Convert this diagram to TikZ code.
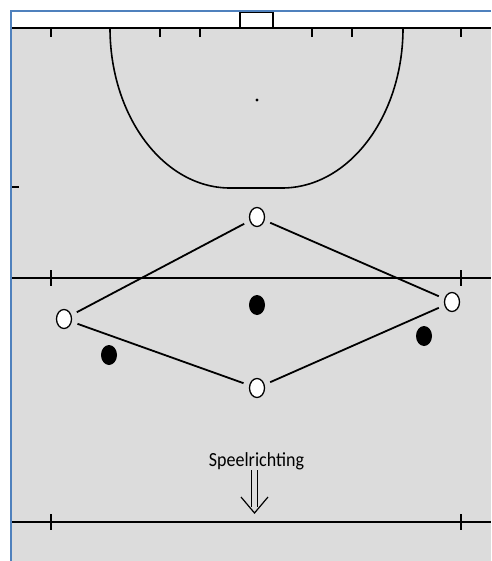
\documentclass[tikz,border=0pt]{standalone}
\usepackage{fontspec}
\setmainfont{Carlito}
\usetikzlibrary{shapes.geometric}
\definecolor{field}{RGB}{220,220,220}
\definecolor{frameblue}{RGB}{79,129,189}
\begin{document}
\begin{tikzpicture}[x=1pt,y=-1pt,
 wp/.style={ellipse,draw,fill=white,line width=1.3pt,minimum width=15pt,minimum height=19pt,inner sep=0pt},
 bp/.style={ellipse,fill=black,minimum width=16pt,minimum height=20pt,inner sep=0pt},
 conn/.style={line width=1.8pt,shorten >=6pt,shorten <=6pt},
 fl/.style={line width=1.6pt},
 tk/.style={line width=1.3pt}]
\useasboundingbox (0,0) rectangle (491,561);
\fill[white] (0,0) rectangle (491,561);
\fill[field] (12,28) rectangle (491,561);
\draw[frameblue,line width=2pt] (11,561) -- (11,11) -- (491,11);
% top line and goal
\draw[fl] (12,28) -- (491,28);
\draw[line width=1.4pt] (240,28) -- (240,12.7) -- (273,12.7) -- (273,28);
\foreach \x in {51,160,200,312,352,461} \draw[tk] (\x,28) -- (\x,37);
% D
\draw[fl] (110,28) arc[start angle=180,end angle=90,x radius=120,y radius=160] -- (282,188) arc[start angle=90,end angle=0,x radius=121,y radius=160];
\fill (257,100) circle (1.6);
% side tick
\draw[tk] (12,187) -- (19,187);
% midline
\draw[fl] (12,278) -- (491,278);
\foreach \x in {51,461} \draw[tk] (\x,270) -- (\x,286);
% lower line
\draw[fl] (12,522) -- (491,522);
\foreach \x in {51,461} \draw[tk] (\x,514) -- (\x,530);
% players
\node[wp] (t) at (257,217) {};
\node[wp] (l) at (64,319) {};
\node[wp] (r) at (452,302) {};
\node[wp] (b) at (257,388) {};
\node[bp] (d1) at (257,305) {};
\node[bp] (d2) at (109,355) {};
\node[bp] (d3) at (424,336) {};
\draw[conn] (t) -- (l);
\draw[conn] (t) -- (r);
\draw[conn] (l) -- (b);
\draw[conn] (b) -- (r);
% direction
\node[anchor=base,inner sep=0pt] (lbl) at (256.5,466) {\scalebox{0.9}[1]{\fontsize{20}{22}\selectfont Speelrichting}};
\coordinate (a1) at (251.5,470);
\coordinate (a2) at (257.5,470);
\draw[line width=1.2pt] (a1) -- (251.5,507);
\draw[line width=1.2pt] (a2) -- (257.5,507);
\draw[line width=1.2pt] (241,497) -- (254.5,513) -- (268,497);
\end{tikzpicture}
\end{document}
